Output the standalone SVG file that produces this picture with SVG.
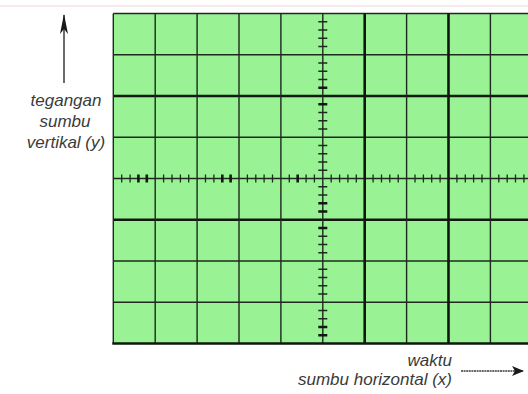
<svg xmlns="http://www.w3.org/2000/svg" width="528" height="394" viewBox="0 0 528 394">
<style>
.g{stroke:#1d2a1d;stroke-width:1.4;fill:none}
.gt{stroke:#101810;stroke-width:2.6;fill:none}
.tk{stroke:#1d2a1d;stroke-width:1.3}
.tkb{stroke:#101810;stroke-width:2.6}
.lbl{font-family:"Liberation Sans",Arial,sans-serif;font-style:italic;font-size:17px;fill:#3a3a3a}
.ax{stroke:#3a3a3a;stroke-width:1.5;fill:none}
</style>
<defs>
<marker id="ah" viewBox="0 0 12 10" refX="11" refY="5" markerWidth="12" markerHeight="10" markerUnits="userSpaceOnUse" orient="auto">
<path d="M0,0 L12,5 L0,10 L3,5 Z" fill="#1a1a1a"/>
</marker>
<marker id="ahv" viewBox="0 0 20 8" refX="19" refY="4" markerWidth="20" markerHeight="8" markerUnits="userSpaceOnUse" orient="auto">
<path d="M0,0 L20,4 L0,8 L5,4 Z" fill="#1a1a1a"/>
</marker>
</defs>
<rect x="0" y="0" width="528" height="394" fill="#ffffff"/>
<line x1="0" y1="6" x2="528" y2="6" stroke="#f0e4e8" stroke-width="1.5"/>
<g id="screen">
<rect x="113.3" y="13.5" width="420" height="330" fill="#99f294"/>
<g id="grid-lines">
<path class="g" d="M113.3,13.5 H528 M113.3,54.75 H528 M113.3,137.25 H528 M113.3,178.5 H528 M113.3,261 H528 M113.3,302.25 H528"/>
<path class="gt" d="M113.3,96 H528 M113.3,219.75 H528"/>
<path class="g" d="M113.3,13.5 V343.5 M155.2,13.5 V343.5 M197.1,13.5 V343.5 M239,13.5 V343.5 M280.9,13.5 V343.5 M322.8,13.5 V343.5 M406.6,13.5 V343.5 M490.4,13.5 V343.5"/>
<path class="gt" d="M364.7,13.5 V343.5 M448.5,13.5 V343.5 M112.3,343.5 H528"/>
</g>
<g id="ticks-x">
<path class="tk" d="M121.7,174.5 v8 M130.1,174.5 v8 M163.6,174.5 v8 M172,174.5 v8 M180.4,174.5 v8 M188.7,174.5 v8 M205.5,174.5 v8 M213.9,174.5 v8 M247.4,174.5 v8 M255.8,174.5 v8 M264.1,174.5 v8 M272.5,174.5 v8 M289.3,174.5 v8 M306.1,174.5 v8 M314.4,174.5 v8 M331.2,174.5 v8 M339.6,174.5 v8 M347.9,174.5 v8 M356.3,174.5 v8 M373.1,174.5 v8 M381.5,174.5 v8 M389.8,174.5 v8 M398.2,174.5 v8 M415,174.5 v8 M423.4,174.5 v8 M431.7,174.5 v8 M440.1,174.5 v8 M456.9,174.5 v8 M465.3,174.5 v8 M473.6,174.5 v8 M482,174.5 v8 M498.8,174.5 v8 M507.2,174.5 v8 M515.5,174.5 v8 M523.9,174.5 v8"/>
<path class="tkb" d="M138.4,174.5 v8 M146.8,174.5 v8 M222.3,174.5 v8 M230.6,174.5 v8 M297.7,174.5 v8"/>
</g>
<g id="ticks-y">
<path class="tk" d="M318.3,21.75 h9 M318.3,30 h9 M318.3,38.25 h9 M318.3,46.5 h9 M318.3,63 h9 M318.3,71.25 h9 M318.3,79.5 h9 M318.3,112.5 h9 M318.3,120.75 h9 M318.3,129 h9 M318.3,145.5 h9 M318.3,153.75 h9 M318.3,162 h9 M318.3,170.25 h9 M318.3,186.75 h9 M318.3,195 h9 M318.3,236.25 h9 M318.3,244.5 h9 M318.3,252.75 h9 M318.3,269.25 h9 M318.3,277.5 h9 M318.3,285.75 h9 M318.3,294 h9 M318.3,310.5 h9 M318.3,318.75 h9"/>
<path class="tkb" d="M318.3,87.75 h9 M318.3,104.25 h9 M318.3,203.25 h9 M318.3,211.5 h9 M318.3,228 h9 M318.3,327 h9 M318.3,335.25 h9"/>
</g>
</g>
<g id="axis-y">
<line class="ax" x1="64" y1="83" x2="64" y2="15" marker-end="url(#ahv)"/>
<text class="lbl" text-anchor="middle" x="66" y="105.5">tegangan</text>
<text class="lbl" text-anchor="middle" x="65" y="127">sumbu</text>
<text class="lbl" text-anchor="middle" x="66" y="148.3">vertikal (y)</text>
</g>
<g id="axis-x">
<line class="ax" x1="461" y1="371" x2="523" y2="371" stroke-dasharray="2 0.6" marker-end="url(#ah)"/>
<text class="lbl" text-anchor="end" x="452" y="366">waktu</text>
<text class="lbl" text-anchor="end" x="452" y="385">sumbu horizontal (x)</text>
</g>
</svg>
